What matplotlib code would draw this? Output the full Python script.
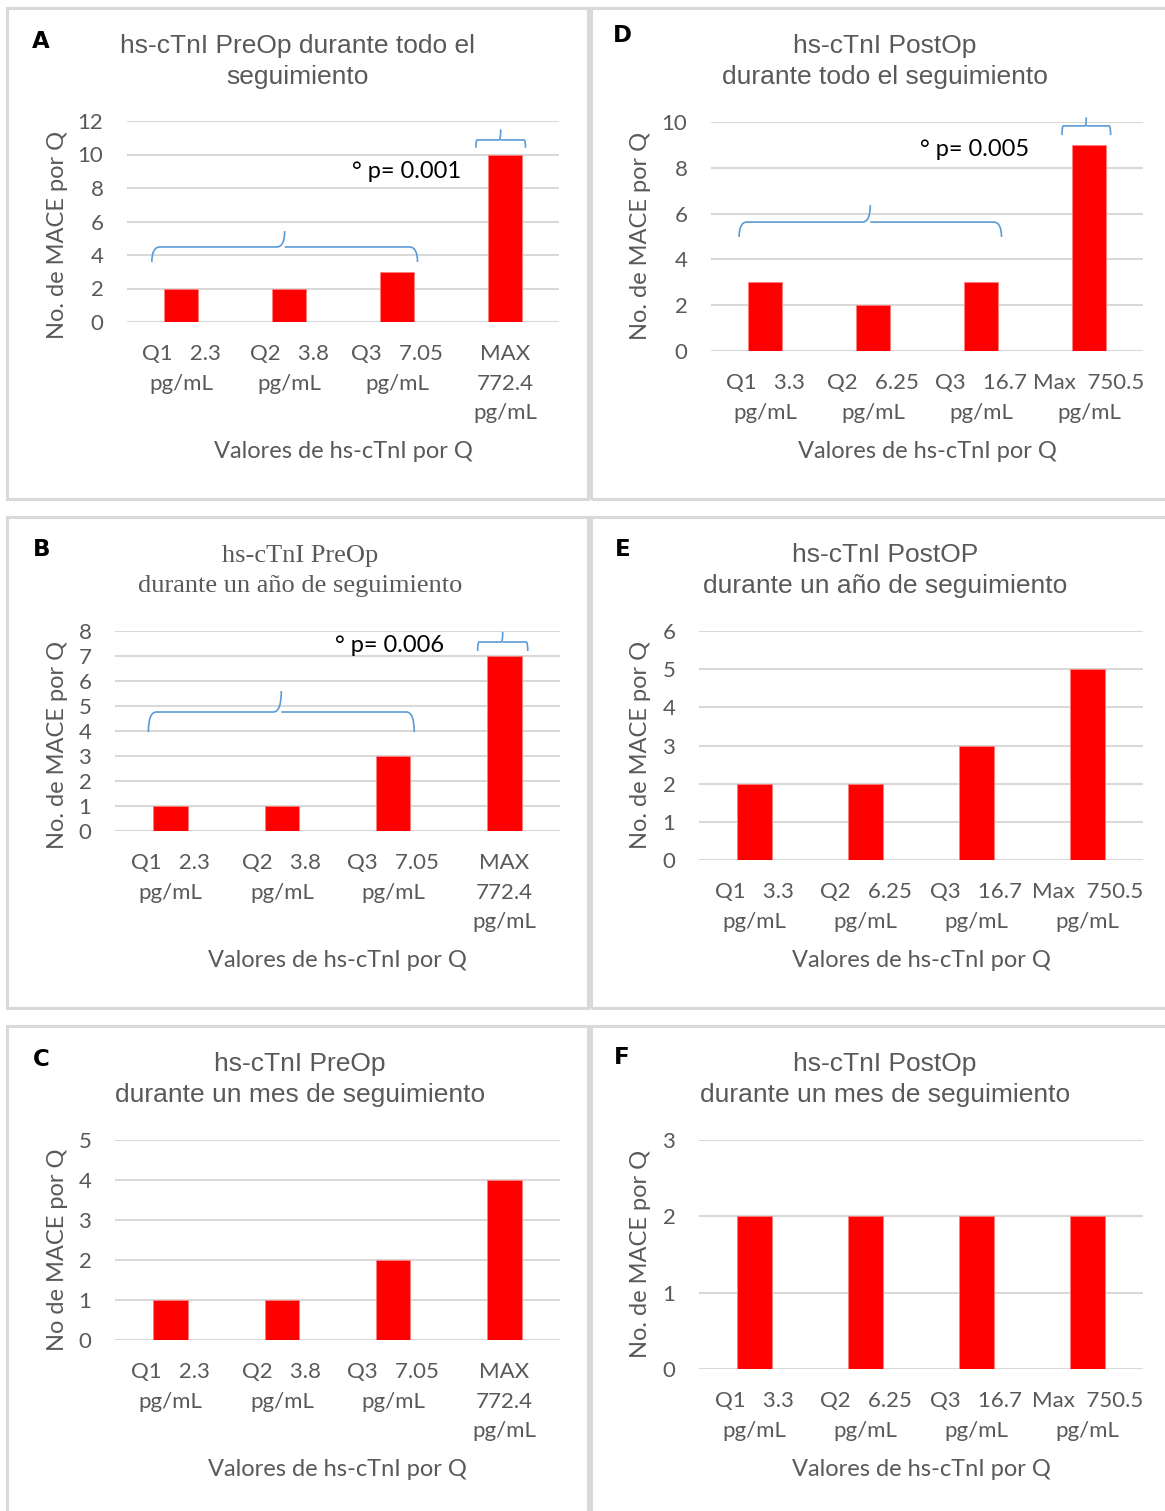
import matplotlib
matplotlib.use("Agg")
import matplotlib.pyplot as plt
from matplotlib.patches import Rectangle
from matplotlib.path import Path
from matplotlib.patches import PathPatch
import numpy as np

W, H = 1165, 1511

# data
pre_labels = ["Q1   2.3\npg/mL", "Q2   3.8\npg/mL", "Q3   7.05\npg/mL", "MAX\n772.4\npg/mL"]
post_labels = ["Q1   3.3\npg/mL", "Q2   6.25\npg/mL", "Q3   16.7\npg/mL", "Max  750.5\npg/mL"]

mace_a = [2, 2, 3, 10]   # PreOp, todo el seguimiento
mace_d = [3, 2, 3, 9]    # PostOp, todo el seguimiento
mace_b = [1, 1, 3, 7]    # PreOp, un año
mace_e = [2, 2, 3, 5]    # PostOP, un año
mace_c = [1, 1, 2, 4]    # PreOp, un mes
mace_f = [2, 2, 2, 2]    # PostOp, un mes

p_a = "° p= 0.001"
p_d = "° p= 0.005"
p_b = "° p= 0.006"

# colours
red = '#FF0000'
grid_gray = '#D9D9D9'
text_gray = '#595959'
brace_blue = '#5B9BD5'

tick_font = 'Lato'
title_font = 'Liberation Sans'
fs = 17       # axis titles, p values
fs_tick = 16  # tick labels

fig = plt.figure(figsize=(W / 100, H / 100), dpi=100)


def fx(px):
    return px / W


def fy(py):
    return 1 - py / H


def border(x0, y0, x1, y1):
    fig.patches.append(Rectangle((fx(x0), fy(y1)), fx(x1) - fx(x0), fy(y0) - fy(y1),
                                 transform=fig.transFigure, fill=False,
                                 edgecolor=grid_gray, linewidth=2.2))


def brace(ax, x0, x1, y_end, y_mid, y_tip):
    # curly brace opening downward, drawn in data coords
    xm = (x0 + x1) / 2
    r = (x1 - x0) * 0.03
    verts = [(x0, y_end), (x0, y_mid), (x0 + r, y_mid),
             (xm - r, y_mid),
             (xm, y_mid), (xm, y_tip),
             (xm, y_mid), (xm + r, y_mid),
             (x1 - r, y_mid),
             (x1, y_mid), (x1, y_end)]
    codes = [Path.MOVETO, Path.CURVE3, Path.CURVE3,
             Path.LINETO,
             Path.CURVE3, Path.CURVE3,
             Path.MOVETO, Path.CURVE3,
             Path.LINETO,
             Path.CURVE3, Path.CURVE3]
    ax.add_patch(PathPatch(Path(verts, codes), fill=False, edgecolor=brace_blue,
                           linewidth=1.2, clip_on=False))


def panel(rect, values, labels, ymax, ystep, letter, letter_xy, title, title_xy,
          ylabel, ylabel_xy, xlabel_y, serif_title=False):
    x0, y_top, x1, y_bot = rect
    ax = fig.add_axes([fx(x0), fy(y_bot), fx(x1) - fx(x0), fy(y_top) - fy(y_bot)])
    x = np.arange(len(values))
    ax.bar(x, values, width=0.31, color=red, edgecolor='#FF8080', linewidth=0.6, zorder=3)
    ax.set_xlim(-0.5, len(values) - 0.5)
    ax.set_ylim(0, ymax)
    ax.set_yticks(np.arange(0, ymax + ystep / 2, ystep))
    ax.yaxis.grid(True, color=grid_gray, linewidth=1.5, zorder=0)
    ax.set_axisbelow(True)
    for s in ax.spines.values():
        s.set_visible(False)
    ax.set_xticks(x)
    ax.set_xticklabels(labels, fontfamily=tick_font, fontsize=fs_tick, color=text_gray,
                       linespacing=1.58)
    for t in ax.get_yticklabels():
        t.set_fontfamily(tick_font)
        t.set_fontsize(fs_tick)
        t.set_color(text_gray)
    ax.tick_params(axis='x', length=0, pad=16)
    ax.tick_params(axis='y', length=0, pad=17)

    fig.text(fx(letter_xy[0]), fy(letter_xy[1]), letter, fontsize=16.5, fontweight='bold',
             family='DejaVu Sans', ha='center', va='center', color='black')
    if serif_title:
        fig.text(fx(title_xy[0]), fy(title_xy[1] + 1.5), title, fontsize=19,
                 family='Liberation Serif', ha='center', va='center', color=text_gray,
                 linespacing=1.44)
    else:
        fig.text(fx(title_xy[0]), fy(title_xy[1] + 2), title, fontsize=19,
                 family=title_font, ha='center', va='center', color=text_gray,
                 linespacing=1.38)
    fig.text(fx(ylabel_xy[0]), fy(ylabel_xy[1]), ylabel, rotation=90, fontsize=fs,
             family=tick_font, ha='center', va='center', color=text_gray)
    fig.text(fx((x0 + x1) / 2), fy(xlabel_y), "Valores de hs-cTnI por Q", fontsize=fs,
             family=tick_font, ha='center', va='center', color=text_gray)
    return ax


# panel boxes
for (bx0, bx1) in [(7, 588), (591, 1180)]:
    border(bx0, 8, bx1, 499)
    border(bx0, 517, bx1, 1008)
    border(bx0, 1026, bx1, 1530)

ax_a = panel((127, 121, 559, 322), mace_a, pre_labels, 12, 2, "A", (41, 41),
             "hs-cTnI PreOp durante todo el\nseguimiento", (297, 59.5),
             "No. de MACE por Q", (57, 235), 451)
brace(ax_a, -0.27, 2.19, 3.58, 4.48, 5.43)
brace(ax_a, 2.73, 3.19, 10.4, 10.87, 11.5)
ax_a.text(2.09, 8.96, p_a, fontsize=fs, family=tick_font, color='black',
          ha='center', va='center')

ax_d = panel((711, 122, 1143, 351), mace_d, post_labels, 10, 2, "D", (622, 35),
             "hs-cTnI PostOp\ndurante todo el seguimiento", (885, 59.5),
             "No. de MACE por Q", (641, 236), 451)
brace(ax_d, -0.24, 2.19, 4.98, 5.63, 6.37)
brace(ax_d, 2.75, 3.20, 9.43, 9.83, 10.2)
ax_d.text(1.94, 8.78, p_d, fontsize=fs, family=tick_font, color='black',
          ha='center', va='center')

ax_b = panel((115, 631, 560, 831), mace_b, pre_labels, 8, 1, "B", (42, 549),
             "hs-cTnI PreOp\ndurante un año de seguimiento", (300, 569.5),
             "No. de MACE por Q", (57, 745), 960, serif_title=True)
brace(ax_b, -0.20, 2.19, 3.96, 4.76, 5.6)
brace(ax_b, 2.76, 3.21, 7.2, 7.56, 7.96)
ax_b.text(1.97, 7.4, p_b, fontsize=fs, family=tick_font, color='black',
          ha='center', va='center')

panel((699, 631, 1143, 860), mace_e, post_labels, 6, 1, "E", (623, 549),
      "hs-cTnI PostOP\ndurante un año de seguimiento", (885, 568.5),
      "No. de MACE por Q", (641, 745), 960)

panel((115, 1140, 560, 1340), mace_c, pre_labels, 5, 1, "C", (41, 1060),
      "hs-cTnI PreOp\ndurante un mes de seguimiento", (300, 1077.5),
      "No de MACE por Q", (57, 1250), 1469)

panel((699, 1140, 1143, 1369), mace_f, post_labels, 3, 1, "F", (622, 1057),
      "hs-cTnI PostOp\ndurante un mes de seguimiento", (885, 1077.5),
      "No. de MACE por Q", (641, 1254), 1469)

fig.savefig("out.png", dpi=100, facecolor='white')
